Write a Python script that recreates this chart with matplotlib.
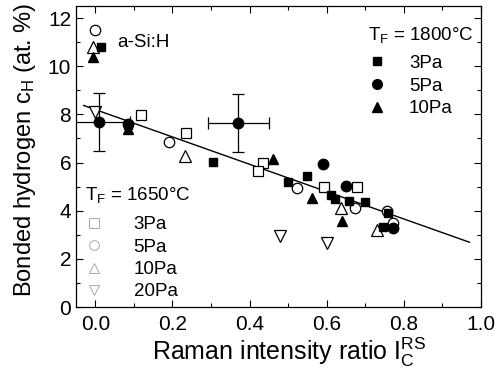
import matplotlib
matplotlib.use("Agg")
import matplotlib.pyplot as plt
from matplotlib.lines import Line2D
from matplotlib.ticker import MultipleLocator, FormatStrFormatter

plt.rcParams['font.family'] = ['Liberation Sans', 'DejaVu Sans']
plt.rcParams['mathtext.default'] = 'regular'

# T_F = 1800 C (filled symbols)
sq18_x = [0.015, 0.086, 0.304, 0.500, 0.549, 0.612, 0.621, 0.658, 0.700, 0.759, 0.746]
sq18_y = [10.8, 7.55, 6.04, 5.18, 5.46, 4.67, 4.49, 4.42, 4.37, 3.90, 3.32]
ci18_x = [0.086, 0.591, 0.651, 0.772]
ci18_y = [7.58, 5.95, 5.04, 3.29]
tr18_x = [-0.007, 0.086, 0.461, 0.563, 0.640]
tr18_y = [10.4, 7.40, 6.15, 4.53, 3.56]
# the two 5Pa points with error bars
err_x = [0.010, 0.371]
err_y = [7.68, 7.63]
err_dx = [0.08, 0.08]
err_dy = [1.2, 1.2]

# T_F = 1650 C (open symbols)
sq16_x = [0.119, 0.235, 0.435, 0.423, 0.592, 0.679]
sq16_y = [7.96, 7.24, 5.99, 5.64, 4.97, 4.97]
ci16_x = [0.000, 0.192, 0.522, 0.673, 0.757, 0.771]
ci16_y = [11.5, 6.85, 4.94, 4.11, 3.97, 3.50]
tr16_x = [-0.005, 0.233, 0.638, 0.731]
tr16_y = [10.8, 6.26, 4.11, 3.20]
dt16_x = [0.000, 0.478, 0.601]
dt16_y = [8.10, 2.96, 2.65]

# linear fit
fit_x = [-0.03, 0.97]
fit_y = [8.37, 2.69]

fig = plt.figure(figsize=(5.0, 3.76), dpi=100)
ax = fig.add_axes([0.152, 0.1835, 0.81, 0.8005])

ax.plot(fit_x, fit_y, color='black', lw=1.0, zorder=2)

op = dict(linestyle='none', markerfacecolor='white', markeredgecolor='black',
          markeredgewidth=0.9, zorder=3)
ax.plot(sq16_x, sq16_y, marker='s', markersize=7, **op)
ax.plot(ci16_x, ci16_y, marker='o', markersize=7.5, **op)
ax.plot(tr16_x, tr16_y, marker='^', markersize=8, **op)
ax.plot(dt16_x, dt16_y, marker='v', markersize=8, **op)

fp = dict(linestyle='none', color='black', zorder=4)
ax.plot(sq18_x, sq18_y, marker='s', markersize=6, **fp)
ax.plot(ci18_x, ci18_y, marker='o', markersize=7.5, **fp)
ax.plot(tr18_x, tr18_y, marker='^', markersize=7, **fp)
ax.errorbar(err_x, err_y, xerr=err_dx, yerr=err_dy, fmt='o', color='black',
            markersize=7.5, elinewidth=0.9, capsize=4, capthick=0.9, zorder=4)

ax.text(0.057, 11.0, 'a-Si:H', fontsize=13.5, va='center', ha='left')

ax.set_xlim(-0.05, 1.0)
ax.set_ylim(0, 12.5)
ax.xaxis.set_major_locator(MultipleLocator(0.2))
ax.xaxis.set_minor_locator(MultipleLocator(0.1))
ax.xaxis.set_major_formatter(FormatStrFormatter('%.1f'))
ax.yaxis.set_major_locator(MultipleLocator(2))
ax.yaxis.set_minor_locator(MultipleLocator(1))
ax.tick_params(which='both', direction='in', top=True, right=True, width=0.8,
               labelsize=15)
ax.tick_params(axis='x', pad=6)
ax.tick_params(which='major', length=5)
ax.tick_params(which='minor', length=3)
for s in ax.spines.values():
    s.set_linewidth(0.9)

ax.set_xlabel('Raman intensity ratio I$_C^{RS}$', fontsize=18)
ax.set_ylabel('Bonded hydrogen c$_H$ (at. %)', fontsize=17)
ax.xaxis.set_label_coords(0.526, -0.096)
ax.yaxis.set_label_coords(-0.094, 0.524)

h18 = [Line2D([], [], ls='none', marker='s', color='black', markersize=6),
       Line2D([], [], ls='none', marker='o', color='black', markersize=7),
       Line2D([], [], ls='none', marker='^', color='black', markersize=7)]
leg1 = ax.legend(h18, ['3Pa', '5Pa', '10Pa'], title='T$_F$ = 1800°C',
                 loc='upper left', bbox_to_anchor=(0.72, 0.937), frameon=False,
                 fontsize=13.5, title_fontsize=13.5, handlelength=1.0,
                 handletextpad=1.2, labelspacing=0.3, borderpad=0,
                 borderaxespad=0)
leg1._legend_box.align = 'left'
leg1._legend_box.sep = 7
ax.add_artist(leg1)

lg = '#aaaaaa'
h16 = [Line2D([], [], ls='none', marker='s', mfc='white', mec=lg, mew=0.7, markersize=7),
       Line2D([], [], ls='none', marker='o', mfc='white', mec=lg, mew=0.7, markersize=7),
       Line2D([], [], ls='none', marker='^', mfc='white', mec=lg, mew=0.7, markersize=7),
       Line2D([], [], ls='none', marker='v', mfc='white', mec=lg, mew=0.7, markersize=7)]
leg2 = ax.legend(h16, ['3Pa', '5Pa', '10Pa', '20Pa'], title='T$_F$ = 1650°C',
                 loc='upper left', bbox_to_anchor=(0.022, 0.405), frameon=False,
                 fontsize=13.5, title_fontsize=13.5, handlelength=1.0,
                 handletextpad=1.6, labelspacing=0.28, borderpad=0,
                 borderaxespad=0)
leg2._legend_box.align = 'left'
leg2._legend_box.sep = 8

fig.savefig('out.png', dpi=100)
